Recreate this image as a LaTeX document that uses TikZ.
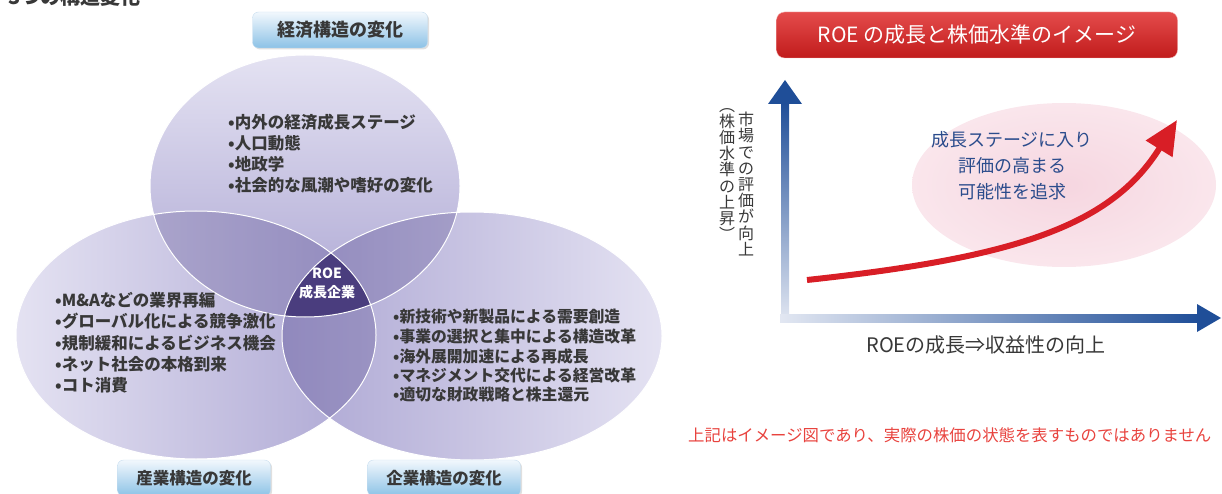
\documentclass[tikz,border=0pt]{standalone}
\usepackage{fontspec}
\setmainfont{Noto Sans CJK JP}
\usetikzlibrary{shadows,arrows.meta}

\definecolor{textgray}{HTML}{383838}
\definecolor{boxtop}{HTML}{F2F8FD}
\definecolor{boxbottom}{HTML}{8CC2E6}
\definecolor{boxline}{HTML}{C6DDEF}
\definecolor{lavlight}{HTML}{E4E2F2}
\definecolor{lavdark}{HTML}{ACA6D3}
\definecolor{pairdark}{HTML}{4B3F86}
\definecolor{coredark}{HTML}{4A3D7E}
\definecolor{redtop}{HTML}{E44B4B}
\definecolor{redbottom}{HTML}{C11C1C}
\definecolor{redline}{HTML}{D81E26}
\definecolor{axisblue}{HTML}{1F4E98}
\definecolor{axislight}{HTML}{E2E7F2}
\definecolor{pinkin}{HTML}{F6D6E0}
\definecolor{pinkout}{HTML}{FAE6EC}
\definecolor{growblue}{HTML}{2B4C8C}
\definecolor{notered}{HTML}{E8433E}

\begin{document}
\begin{tikzpicture}
	[x=1pt,y=-1pt,
	item/.style={anchor=west,inner sep=0pt,text=textgray,font=\bfseries\fontsize{16.5}{16.5}\selectfont},
	bluebox/.style={rounded corners=6pt,top color=boxtop,bottom color=boxbottom,draw=boxline,
		minimum height=36pt,text=textgray,font=\bfseries\fontsize{18}{18}\selectfont,
		drop shadow={opacity=0.25,shadow xshift=1.5pt,shadow yshift=-1.5pt}},
	redbox/.style={rounded corners=8pt,top color=redtop,bottom color=redbottom,draw=redtop!40,
		minimum width=401pt,minimum height=46pt,text=white,font=\fontsize{21}{21}\selectfont},
	vlabel/.style={anchor=north,inner sep=0pt,align=center,text=textgray,font=\fontsize{16}{16.2}\selectfont},
	pairfill/.style={fill=pairdark,fill opacity=0.28}
	]
	\useasboundingbox (0,0) rectangle (1222,494);

	\def\topE{(305,186) ellipse [x radius=155pt,y radius=131pt]}
	\def\leftE{(196,335) ellipse [x radius=180pt,y radius=124pt]}
	\def\rightE{(472,336) ellipse [x radius=190pt,y radius=124pt]}

	% title, cut at the top
	\node[anchor=base west,inner sep=0pt,text=textgray,font=\bfseries\fontsize{20}{20}\selectfont] (title) at (8,5) {3つの構造変化};

	% three circles
	\shade[top color=lavlight,bottom color=lavdark] \topE;
	\shade[left color=lavlight,right color=lavdark] \leftE;
	\shade[right color=lavlight,left color=lavdark] \rightE;
	\begin{scope}
		\clip \topE;
		\fill[pairfill] \leftE;
		\fill[pairfill] \rightE;
	\end{scope}
	\begin{scope}
		\clip \leftE;
		\fill[pairfill] \rightE;
	\end{scope}
	\begin{scope}
		\clip \topE;
		\clip \leftE;
		\fill[coredark] \rightE;
	\end{scope}
	\draw[white,line width=1pt] \topE \leftE \rightE;

	\node[align=center,inner sep=0pt,text=white,font=\bfseries\fontsize{14}{19}\selectfont] (roe) at (327,283) {ROE\\成長企業};

	\foreach \t [count=\i from 0] in {•内外の経済成長ステージ,•人口動態,•地政学,•社会的な風潮や嗜好の変化}
		\node[item] (eco\i) at (228,122+21*\i) {\t};
	\foreach \t [count=\i from 0] in {•M\&Aなどの業界再編,•グローバル化による競争激化,•規制緩和によるビジネス機会,•ネット社会の本格到来,•コト消費}
		\node[item] (ind\i) at (55,300+21.3*\i) {\t};
	\foreach \t [count=\i from 0] in {•新技術や新製品による需要創造,•事業の選択と集中による構造改革,•海外展開加速による再成長,•マネジメント交代による経営改革,•適切な財政戦略と株主還元}
		\node[item,font=\bfseries\fontsize{15.8}{15.8}\selectfont] (corp\i) at (393,317+19.5*\i) {\t};

	\node[bluebox,minimum width=175pt] (econbox) at (340,30) {経済構造の変化};
	\node[bluebox,minimum width=153pt,font=\bfseries\fontsize{16.5}{16.5}\selectfont] (indbox) at (194,478) {産業構造の変化};
	\node[bluebox,minimum width=153pt,font=\bfseries\fontsize{16.5}{16.5}\selectfont] (corpbox) at (444,478) {企業構造の変化};

	% ROE image
	\node[redbox] (roetitle) at (977,35) {ROE の成長と株価水準のイメージ};

	\shade[inner color=pinkin,outer color=pinkout] (1064,185) ellipse [x radius=152pt,y radius=82pt];
	\node[align=center,inner sep=0pt,text=growblue,font=\fontsize{18}{26}\selectfont] (grow) at (1012,166) {成長ステージに入り\\評価の高まる\\可能性を追求};

	\coordinate (o) at (785,318);
	\coordinate (ytip) at (785,80);
	\coordinate (xtip) at (1221,318);
	\shade[bottom color=axislight,top color=axisblue] (781,322) rectangle (789,102);
	\fill[axisblue] (768,104) -- (ytip) -- (802,104) -- cycle;
	\shade[left color=axislight,right color=axisblue] (780,314) rectangle (1199,322);
	\fill[axisblue] (1197,304) -- (xtip) -- (1197,332) -- cycle;

	\coordinate (rs) at (807,280);
	\coordinate (re) at (1177,120);
	\draw[redline,line width=6pt,-{Triangle[length=34pt,width=30pt]}] (rs) .. controls (1010,258) and (1110,228) .. (re);

	\node[vlabel] (ylab) at (746,112) {市\\場\\で\\の\\評\\価\\が\\向\\上};
	\node[vlabel] (ylab2) at (727,108) {︵\\株\\価\\水\\準\\の\\上\\昇\\︶};
	\node[inner sep=0pt,text=textgray,font=\fontsize{20}{20}\selectfont] (xlab) at (986,345) {ROEの成長⇒収益性の向上};

	\node[anchor=west,inner sep=0pt,text=notered,font=\fontsize{16.4}{16.4}\selectfont] (note) at (688,435) {上記はイメージ図であり、実際の株価の状態を表すものではありません};
\end{tikzpicture}
\end{document}
